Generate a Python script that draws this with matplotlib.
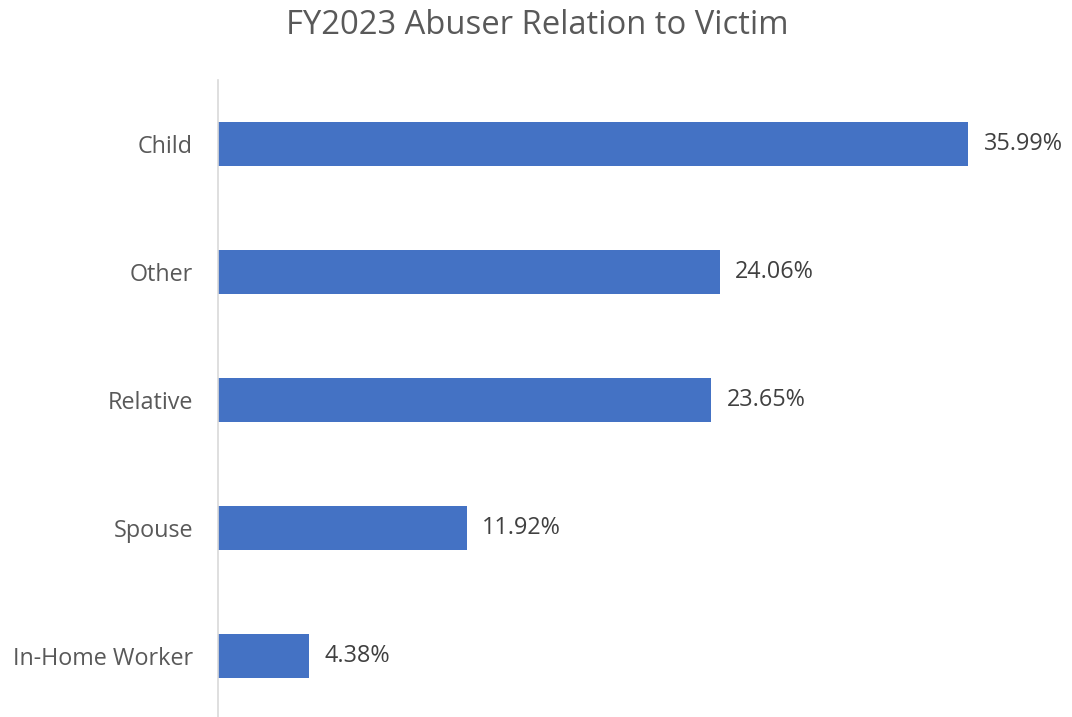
import matplotlib.pyplot as plt

# data
categories = ['Child', 'Other', 'Relative', 'Spouse', 'In-Home Worker']
percents = [35.99, 24.06, 23.65, 11.92, 4.38]
value_labels = ['35.99%', '24.06%', '23.65%', '11.92%', '4.38%']

plt.rcParams['font.family'] = ['Open Sans', 'DejaVu Sans']

fig = plt.figure(figsize=(10.72, 7.17), dpi=100)
ax = fig.add_axes([218/1072, -3/717, (1052-218)/1072, (720-80)/717])

ypos = list(range(len(categories)))
ax.barh(ypos, percents, height=0.35, color='#4472C4')
ax.set_ylim(len(categories)-0.5, -0.5)
ax.set_xlim(0, 40)
ax.set_yticks(ypos)
ax.set_yticklabels(categories, fontsize=16.8, color='#595959')
ax.set_xticks([])
ax.tick_params(axis='y', length=0, pad=18)

for y, v, lab in zip(ypos, percents, value_labels):
    ax.text(v + 0.75, y, lab, va='center', ha='left', fontsize=16.8, color='#404040')

for s in ['top', 'right', 'bottom']:
    ax.spines[s].set_visible(False)
ax.spines['left'].set_color('#d9d9d9')
ax.spines['left'].set_linewidth(1.2)

fig.text(537/1072, 1 - 25/717, 'FY2023 Abuser Relation to Victim', ha='center', va='center',
         fontsize=23.6, color='#595959')

plt.savefig('out.png', dpi=100)
